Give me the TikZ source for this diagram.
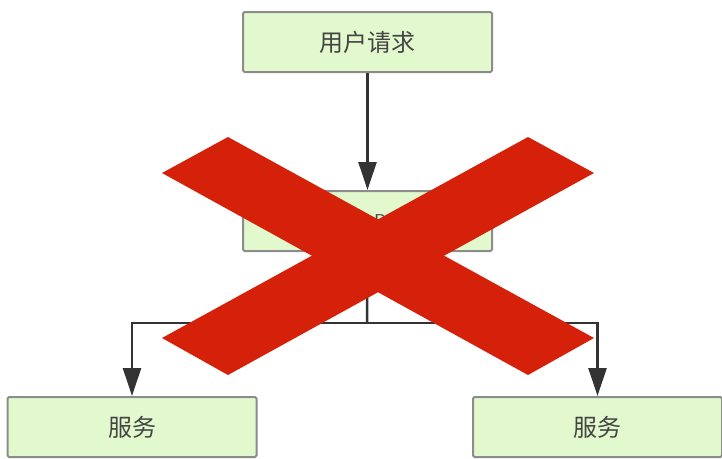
\documentclass[tikz,border=0pt]{standalone}
\usepackage{fontspec}
\newfontfamily\cjk{Noto Sans CJK SC}
\usetikzlibrary{arrows.meta}
\definecolor{boxfill}{RGB}{226,249,206}
\definecolor{boxline}{RGB}{140,140,140}
\definecolor{ink}{RGB}{51,51,51}
\definecolor{txt}{RGB}{68,68,68}
\definecolor{xred}{RGB}{213,32,10}
\begin{document}
\begin{tikzpicture}[x=1pt,y=-1pt,
  box/.style={draw=boxline,line width=2pt,fill=boxfill,rounded corners=1.5pt,
    minimum width=249pt,minimum height=60pt,inner sep=0pt,
    font=\cjk\fontsize{24}{24}\selectfont,text=txt},
  conn/.style={draw=ink,line width=2.5pt,-{Triangle[length=28pt,width=18pt]}},
  line/.style={draw=ink,line width=2.5pt}]
\useasboundingbox (0,0) rectangle (722,458);
\node[box] (req) at (367.5,42) {用户请求};
\node[box] (mid) at (367.5,221) {};
\node[font=\sffamily\fontsize{20}{20}\selectfont,text=txt] (midtxt) at (381,222) {D};
\node[box] (s1) at (132,427) {服务};
\node[box] (s2) at (597.5,427) {服务};
\coordinate (j) at (367,323);
\draw[conn] (req.south) -- (mid.north);
\draw[line] (mid.south) -- (j);
\draw[conn] (j) -| (s1.north);
\draw[conn] (j) -| (s2.north);
\fill[xred] (162,173) -- (228,137) -- (594,338) -- (528,375) -- cycle;
\fill[xred] (528,137) -- (594,173) -- (228,375) -- (162,338) -- cycle;
\end{tikzpicture}
\end{document}
